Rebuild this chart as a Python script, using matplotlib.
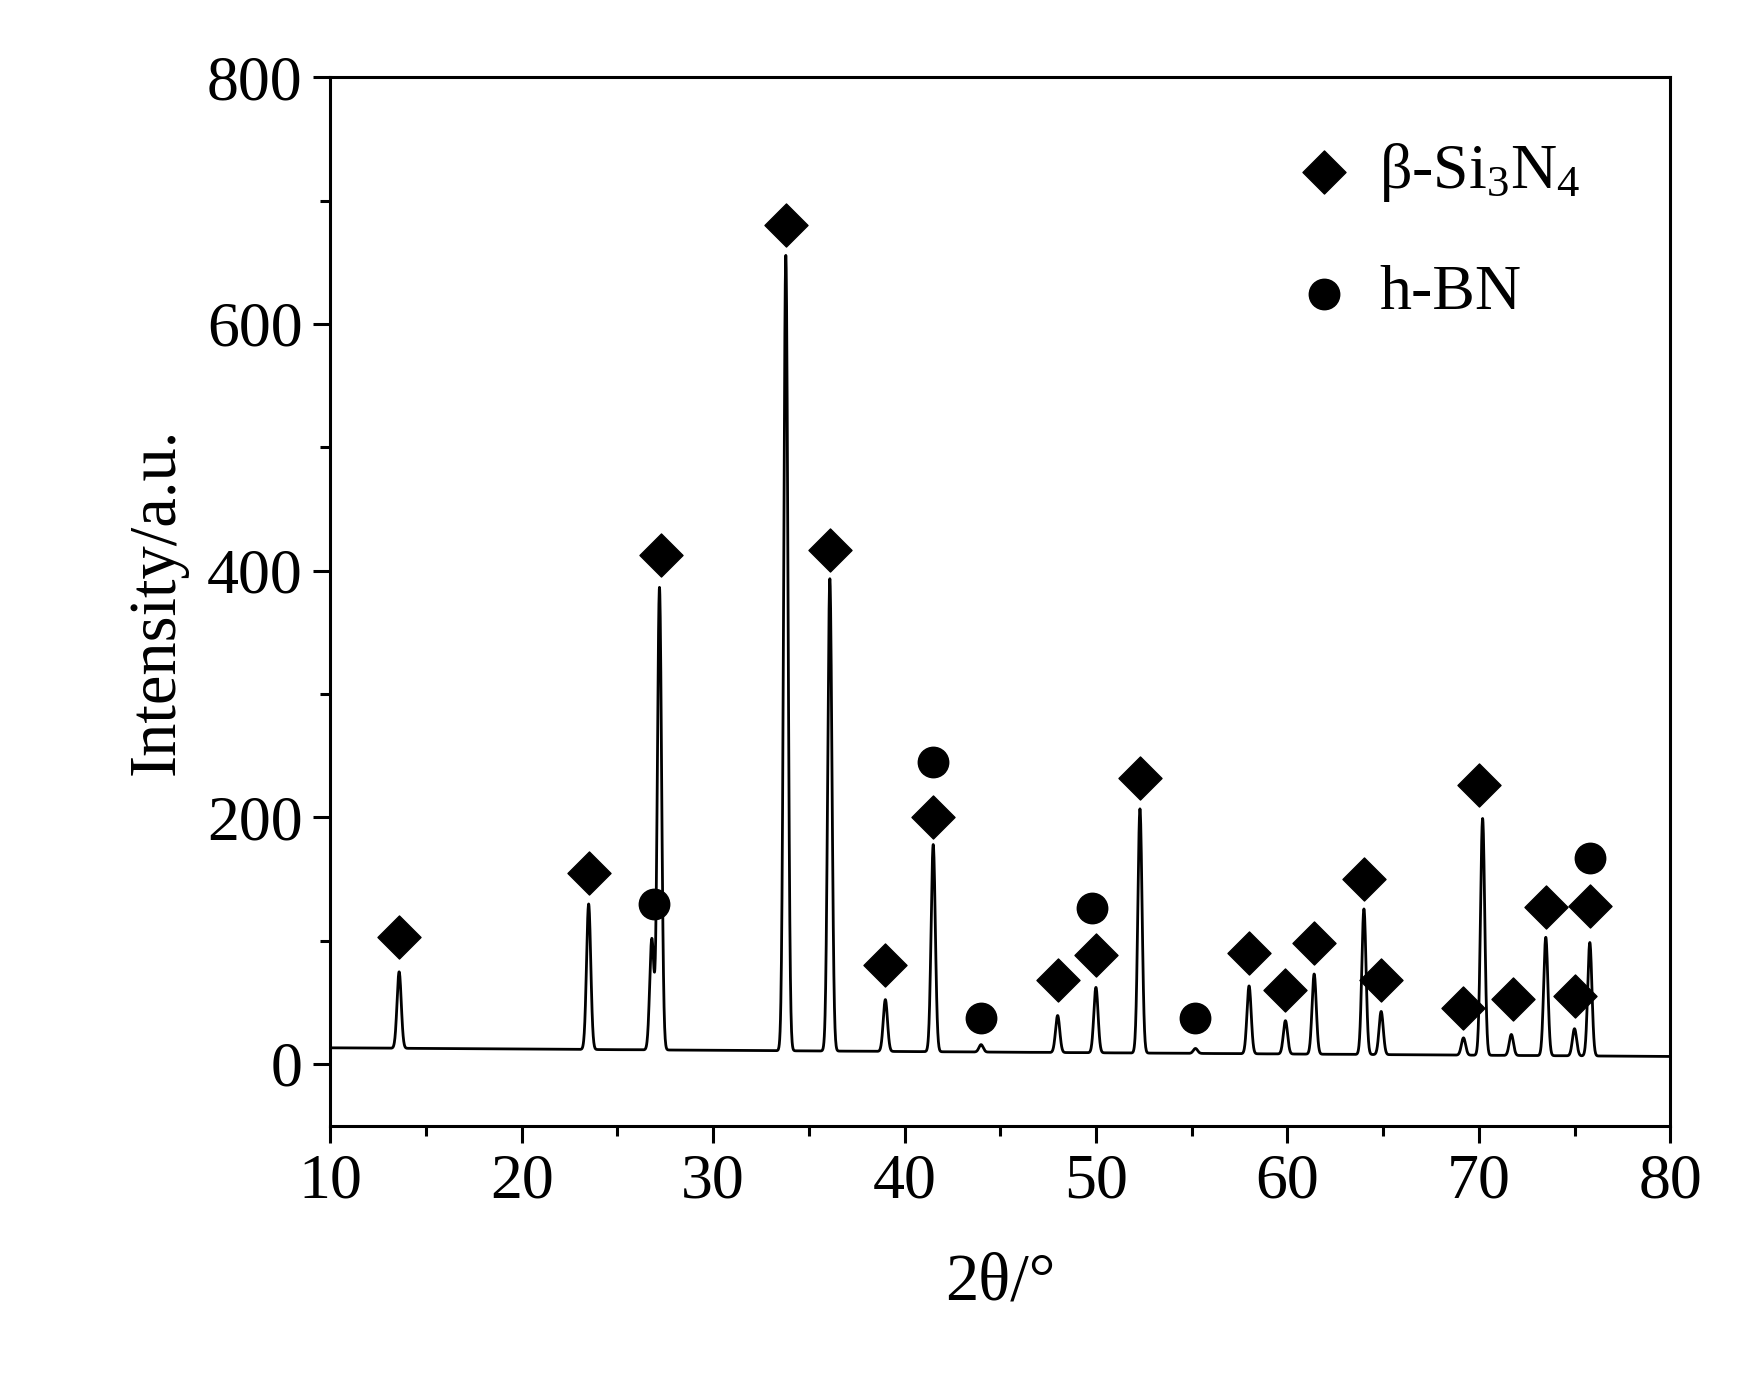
import numpy as np
import matplotlib
matplotlib.use("Agg")
import matplotlib.pyplot as plt

plt.rcParams['font.family'] = ['Liberation Serif', 'DejaVu Serif']
plt.rcParams['mathtext.fontset'] = 'custom'
plt.rcParams['mathtext.rm'] = 'Liberation Serif'
plt.rcParams['mathtext.it'] = 'Liberation Serif'

# peak positions (2θ) and heights above baseline
peak_pos = [13.6, 23.5, 26.8, 27.2, 33.8, 36.1, 39.0, 41.5, 44.0, 48.0, 50.0, 52.3, 55.2,
            58.0, 59.9, 61.4, 64.0, 64.9, 69.2, 70.2, 71.7, 73.5, 75.0, 75.8]
peak_h = [62, 118, 90, 375, 645, 383, 42, 168, 6, 30, 53, 198, 4,
          55, 27, 65, 118, 35, 14, 192, 17, 96, 22, 92]
base_start, base_end = 13, 6

si3n4_x = [13.6, 23.5, 27.3, 33.8, 36.1, 39.0, 41.5, 48.0, 50.0, 52.3, 58.0, 59.9, 61.4,
           64.0, 64.9, 69.2, 70.0, 71.8, 73.5, 75.0, 75.8]
si3n4_y = [103, 155, 413, 680, 417, 80, 200, 68, 88, 232, 90, 60, 98,
           150, 68, 45, 226, 53, 127, 55, 128]
bn_x = [26.9, 41.5, 44.0, 49.8, 55.2, 75.8]
bn_y = [130, 245, 37, 126, 37, 167]

x = np.linspace(10, 80, 7001)
y = base_start + (base_end - base_start) * (x - 10) / 70
for p, h in zip(peak_pos, peak_h):
    y = y + h * np.exp(-0.5 * ((x - p) / 0.11) ** 2)

fig = plt.figure(figsize=(17.38, 13.81), dpi=100)
ax = fig.add_axes([0.190, 0.185, 0.771, 0.759])
ax.plot(x, y, color='black', lw=2)
ax.scatter(si3n4_x, si3n4_y, marker='D', s=480, color='black', zorder=3)
ax.scatter(bn_x, bn_y, marker='o', s=480, color='black', zorder=3)

ax.set_xlim(10, 80)
ax.set_ylim(-50, 800)
ax.set_xticks(range(10, 81, 10))
ax.set_yticks(range(0, 801, 200))
ax.set_xticks(range(15, 80, 10), minor=True)
ax.set_yticks(range(100, 800, 200), minor=True)
ax.tick_params(which='major', direction='out', length=12, width=2.2, labelsize=46, pad=8)
ax.tick_params(which='minor', direction='out', length=7, width=2.2)
for s in ax.spines.values():
    s.set_linewidth(2.2)
ax.set_xlabel('2θ/°', fontsize=48, labelpad=30)
ax.set_ylabel('Intensity/a.u.', fontsize=48, labelpad=14)

ax.scatter([61.9], [723], marker='D', s=480, color='black')
ax.text(64.8, 723, r'β-Si$_3$N$_4$', fontsize=46, va='center')
ax.scatter([61.9], [624], marker='o', s=480, color='black')
ax.text(64.8, 624, 'h-BN', fontsize=46, va='center')

fig.savefig('out.png', dpi=100, facecolor='white')
